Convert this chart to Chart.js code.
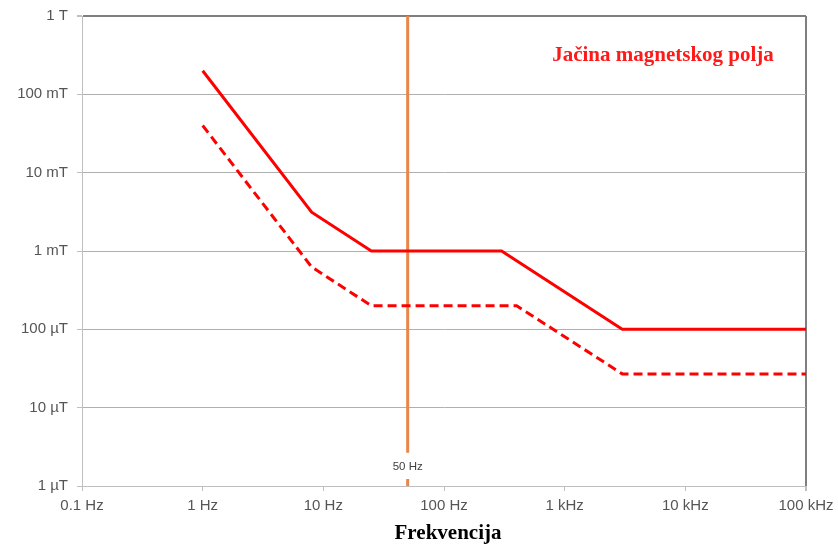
<!DOCTYPE html>
<html>
<head>
<meta charset="utf-8">
<script src="https://cdn.jsdelivr.net/npm/chart.js@4/dist/chart.umd.min.js"></script>
<style>
  html, body { margin: 0; padding: 0; background: #fff; }
  #wrap { width: 838px; height: 550px; }
</style>
</head>
<body>
<div id="wrap"><canvas id="fieldChart"></canvas></div>
<script>
// Frequencies in Hz, field values in µT
const freqSolid = [1, 8, 25, 300, 3000, 100000];
const fieldSolid = [200000, 3125, 1000, 1000, 100, 100];
const freqDashed = [1, 8, 25, 400, 3000, 100000];
const fieldDashed = [40000, 625, 200, 200, 27, 27];

// 50 Hz marker, broken around its label
const markerFreq = 50;
const markerField = [1000000, 2.65, null, 1.23, 1];
const markerLabel = "50 Hz";
const markerLabelField = 1.75;

const xTicks = [0.1, 1, 10, 100, 1000, 10000, 100000];
const xLabels = ["0.1 Hz", "1 Hz", "10 Hz", "100 Hz", "1 kHz", "10 kHz", "100 kHz"];
const yTicks = [1, 10, 100, 1000, 10000, 100000, 1000000];
const yLabels = ["1 µT", "10 µT", "100 µT", "1 mT", "10 mT", "100 mT", "1 T"];

const chartTitle = "Jačina magnetskog polja";
const xTitle = "Frekvencija";

function toPoints(xs, ys) {
  return xs.map((x, i) => ({ x: x, y: ys[i] }));
}

// in-plot title, marker label and the axis title
const annotations = {
  id: "annotations",
  afterDatasetsDraw(chart) {
    const { ctx, chartArea, scales } = chart;
    ctx.save();
    ctx.textAlign = "center";
    ctx.textBaseline = "middle";

    ctx.fillStyle = "#ff1a1a";
    ctx.font = "bold 21px 'Liberation Serif', serif";
    ctx.fillText(chartTitle, chartArea.right - 143, chartArea.top + 40);

    ctx.fillStyle = "#404040";
    ctx.font = "11.5px 'Liberation Sans', sans-serif";
    ctx.fillText(
      markerLabel,
      scales.x.getPixelForValue(markerFreq),
      scales.y.getPixelForValue(markerLabelField)
    );

    ctx.fillStyle = "#000";
    ctx.font = "bold 21px 'Liberation Serif', serif";
    ctx.fillText(xTitle, (chartArea.left + chartArea.right) / 2 + 4, chartArea.bottom + 48);
    ctx.restore();
  },
};

const ctx = document.getElementById("fieldChart").getContext("2d");
new Chart(ctx, {
  type: "line",
  data: {
    datasets: [
      {
        data: toPoints(freqSolid, fieldSolid),
        borderColor: "#ff0000",
        borderWidth: 3,
        pointRadius: 0,
        fill: false,
      },
      {
        data: toPoints(freqDashed, fieldDashed),
        borderColor: "#ff0000",
        borderWidth: 3,
        borderDash: [9, 5],
        pointRadius: 0,
        fill: false,
      },
      {
        data: markerField.map((v) => ({ x: markerFreq, y: v })),
        borderColor: "#e8864c",
        borderWidth: 3,
        pointRadius: 0,
        spanGaps: false,
        fill: false,
      },
    ],
  },
  options: {
    responsive: true,
    maintainAspectRatio: false,
    animation: false,
    layout: { padding: { left: 0, right: 32, top: 16, bottom: 0 } },
    plugins: {
      legend: { display: false },
      tooltip: { enabled: false },
    },
    scales: {
      x: {
        type: "logarithmic",
        min: 0.1,
        max: 100000,
        afterBuildTicks: (scale) => {
          scale.ticks = xTicks.map((v) => ({ value: v }));
        },
        afterFit: (scale) => {
          scale.height = 64;
          scale.paddingLeft = 0;
          scale.paddingRight = 0;
        },
        ticks: {
          autoSkip: false,
          maxRotation: 0,
          padding: 6,
          color: "#555555",
          font: { family: "'Liberation Sans', sans-serif", size: 15 },
          callback: (value) => {
            const i = xTicks.indexOf(value);
            return i >= 0 ? xLabels[i] : "";
          },
        },
        grid: {
          drawOnChartArea: true,
          color: (c) => (c.tick && c.tick.value === 100000 ? "#7f7f7f" : "rgba(0,0,0,0)"),
          lineWidth: (c) => (c.tick && c.tick.value === 100000 ? 2 : 1),
          tickColor: "#bfbfbf",
          tickLength: 5,
        },
        border: { color: "#bfbfbf", width: 1 },
      },
      y: {
        type: "logarithmic",
        min: 1,
        max: 1000000,
        afterBuildTicks: (scale) => {
          scale.ticks = yTicks.map((v) => ({ value: v }));
        },
        afterFit: (scale) => {
          scale.width = 82;
          scale.paddingTop = 0;
          scale.paddingBottom = 0;
        },
        ticks: {
          autoSkip: false,
          padding: 9,
          color: "#555555",
          font: { family: "'Liberation Sans', sans-serif", size: 15 },
          callback: (value) => {
            const i = yTicks.indexOf(value);
            return i >= 0 ? yLabels[i] : "";
          },
        },
        grid: {
          color: (c) => (c.tick && c.tick.value === 1000000 ? "#7f7f7f" : "#b0b0b0"),
          lineWidth: (c) => (c.tick && c.tick.value === 1000000 ? 2 : 1),
          tickColor: "#bfbfbf",
          tickLength: 5,
        },
        border: { color: "#bfbfbf", width: 1 },
      },
    },
  },
  plugins: [annotations],
});
</script>
</body>
</html>
